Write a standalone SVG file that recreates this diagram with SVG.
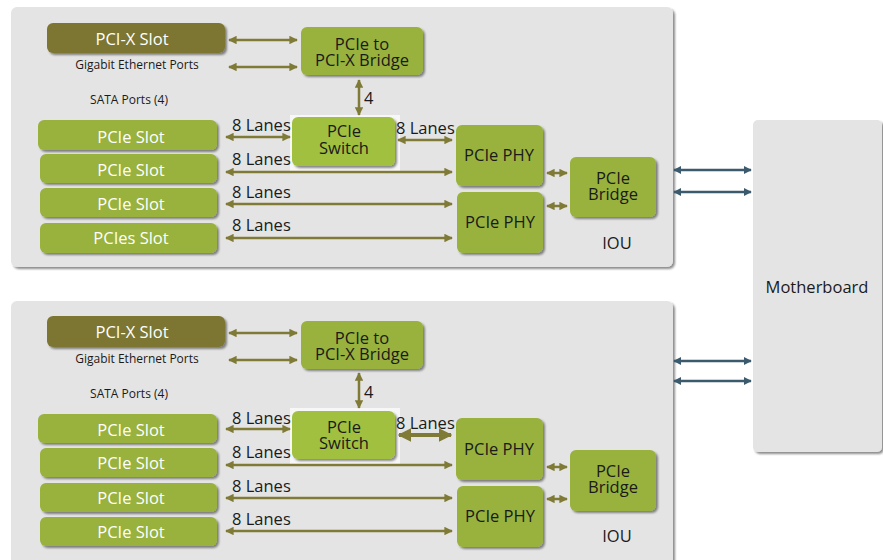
<svg xmlns="http://www.w3.org/2000/svg" width="883" height="560" viewBox="0 0 883 560">
<defs>
<filter id="sh" x="-10%" y="-10%" width="130%" height="140%">
<feDropShadow dx="2" dy="2" stdDeviation="1.2" flood-color="#000" flood-opacity="0.45"/>
</filter>
<marker id="ah" viewBox="0 0 10 10" refX="9" refY="5" markerWidth="3.4" markerHeight="3.4" orient="auto-start-reverse" markerUnits="strokeWidth">
<path d="M0,0 L10,5 L0,10 Z" fill="#7f7a35"/>
</marker>
<marker id="ahb" viewBox="0 0 10 10" refX="9" refY="5" markerWidth="3.2" markerHeight="3.2" orient="auto-start-reverse" markerUnits="strokeWidth">
<path d="M0,0 L10,5 L0,10 Z" fill="#3b5a6d"/>
</marker>
</defs>
<style>
.panel{fill:#e4e4e4;filter:url(#sh)}
.g{fill:#98b23c;filter:url(#sh)}
.sw{fill:#a2c040;filter:url(#sh)}
.ol{fill:#7b7632;filter:url(#sh)}
.t{font-family:"Open Sans","Noto Sans",sans-serif;font-size:16.5px;fill:#1a1a1a;text-anchor:middle}
.tw{font-family:"Open Sans","Noto Sans",sans-serif;font-size:16.5px;fill:#ffffff;text-anchor:middle}
.s{font-family:"Open Sans","Noto Sans",sans-serif;font-size:12px;fill:#1a1a1a;text-anchor:middle}
.l{font-family:"Open Sans","Noto Sans",sans-serif;font-size:16.5px;fill:#1a1a1a}
.a{stroke:#7f7a35;stroke-width:2.5;fill:none;marker-start:url(#ah);marker-end:url(#ah)}
.a2{stroke:#7f7a35;stroke-width:4;fill:none;marker-start:url(#ah);marker-end:url(#ah)}
.b{stroke:#3b5a6d;stroke-width:2.5;fill:none;marker-start:url(#ahb);marker-end:url(#ahb)}
</style>

<rect x="0" y="0" width="883" height="560" fill="#ffffff"/>

<g id="panel-top">
<rect class="panel" x="11" y="7" width="662" height="260" rx="6"/>
<text class="s" x="137" y="69">Gigabit Ethernet Ports</text>
<text class="s" x="129" y="104">SATA Ports (4)</text>
<text class="t" x="617" y="249">IOU</text>
</g>
<g id="panel-bottom">
<rect class="panel" x="11" y="301" width="662" height="275" rx="6"/>
<text class="s" x="137" y="363">Gigabit Ethernet Ports</text>
<text class="s" x="129" y="398">SATA Ports (4)</text>
<text class="t" x="617" y="542">IOU</text>
</g>

<g id="motherboard">
<rect class="panel" x="753" y="120" width="129" height="332" rx="5"/>
<text class="t" x="817" y="293">Motherboard</text>
</g>

<!-- Top panel nodes -->
<g id="t-pcix-slot"><rect class="ol" x="47" y="23" width="178" height="30" rx="6"/><text class="tw" x="132" y="45">PCI-X Slot</text></g>
<g id="t-bridge-x"><rect class="g" x="301" y="27" width="122" height="48" rx="6"/><text class="t" x="362" y="50">PCIe to<tspan x="362" dy="16">PCI-X Bridge</tspan></text></g>
<g id="t-switch"><rect x="290" y="115" width="110" height="56" fill="#f7f7f7"/><rect class="sw" x="292" y="117" width="103" height="49" rx="6"/><text class="t" x="344" y="137">PCIe<tspan x="344" dy="17">Switch</tspan></text></g>
<g id="t-slot1"><rect class="g" x="38" y="120" width="179" height="30" rx="6"/><text class="tw" x="131" y="143">PCIe Slot</text></g>
<g id="t-slot2"><rect class="g" x="40" y="154" width="177" height="29" rx="6"/><text class="tw" x="131" y="176">PCIe Slot</text></g>
<g id="t-slot3"><rect class="g" x="40" y="188" width="177" height="29" rx="6"/><text class="tw" x="131" y="210">PCIe Slot</text></g>
<g id="t-slot4"><rect class="g" x="40" y="223" width="177" height="30" rx="6"/><text class="tw" x="131" y="244">PCIes Slot</text></g>
<g id="t-phy1"><rect class="g" x="456" y="125" width="87" height="61" rx="6"/><text class="t" x="499" y="161">PCIe PHY</text></g>
<g id="t-phy2"><rect class="g" x="457" y="192" width="86" height="61" rx="6"/><text class="t" x="500" y="228">PCIe PHY</text></g>
<g id="t-pbridge"><rect class="g" x="570" y="157" width="86" height="60" rx="6"/><text class="t" x="613" y="184">PCIe<tspan x="613" dy="16">Bridge</tspan></text></g>

<!-- Bottom panel nodes -->
<g id="b-pcix-slot"><rect class="ol" x="47" y="316" width="178" height="31" rx="6"/><text class="tw" x="132" y="338">PCI-X Slot</text></g>
<g id="b-bridge-x"><rect class="g" x="301" y="321" width="122" height="48" rx="6"/><text class="t" x="362" y="344">PCIe to<tspan x="362" dy="16">PCI-X Bridge</tspan></text></g>
<g id="b-switch"><rect x="290" y="408" width="110" height="58" fill="#f7f7f7"/><rect class="sw" x="292" y="411" width="103" height="48" rx="6"/><text class="t" x="344" y="433">PCIe<tspan x="344" dy="16">Switch</tspan></text></g>
<g id="b-slot1"><rect class="g" x="38" y="414" width="179" height="29" rx="6"/><text class="tw" x="131" y="436">PCIe Slot</text></g>
<g id="b-slot2"><rect class="g" x="40" y="448" width="177" height="29" rx="6"/><text class="tw" x="131" y="469">PCIe Slot</text></g>
<g id="b-slot3"><rect class="g" x="40" y="483" width="177" height="29" rx="6"/><text class="tw" x="131" y="504">PCIe Slot</text></g>
<g id="b-slot4"><rect class="g" x="40" y="517" width="177" height="29" rx="6"/><text class="tw" x="131" y="538">PCIe Slot</text></g>
<g id="b-phy1"><rect class="g" x="456" y="418" width="87" height="62" rx="6"/><text class="t" x="499" y="455">PCIe PHY</text></g>
<g id="b-phy2"><rect class="g" x="457" y="486" width="86" height="61" rx="6"/><text class="t" x="500" y="522">PCIe PHY</text></g>
<g id="b-pbridge"><rect class="g" x="570" y="450" width="86" height="61" rx="6"/><text class="t" x="613" y="477">PCIe<tspan x="613" dy="16">Bridge</tspan></text></g>

<g id="connectors">
<!-- top -->
<line class="a" x1="229" y1="40" x2="297" y2="40"/>
<line class="a" x1="229" y1="67" x2="297" y2="67"/>
<line class="a" x1="359" y1="80" x2="359" y2="115"/>
<line class="a" x1="226" y1="137" x2="290" y2="137"/>
<line class="a" x1="398" y1="140" x2="452" y2="140"/>
<line class="a" x1="226" y1="172" x2="452" y2="172"/>
<line class="a" x1="226" y1="204" x2="452" y2="204"/>
<line class="a" x1="226" y1="238" x2="452" y2="238"/>
<line class="a" x1="547" y1="173" x2="567" y2="173"/>
<line class="a" x1="547" y1="206" x2="567" y2="206"/>
<line class="b" x1="674" y1="170" x2="751" y2="170"/>
<line class="b" x1="674" y1="192" x2="751" y2="192"/>
<!-- bottom -->
<line class="a" x1="229" y1="333" x2="297" y2="333"/>
<line class="a" x1="229" y1="360" x2="297" y2="360"/>
<line class="a" x1="359" y1="373" x2="359" y2="408"/>
<line class="a" x1="226" y1="429" x2="290" y2="429"/>
<line class="a2" x1="399" y1="435" x2="451" y2="435"/>
<line class="a" x1="226" y1="465" x2="452" y2="465"/>
<line class="a" x1="226" y1="498" x2="452" y2="498"/>
<line class="a" x1="226" y1="531" x2="452" y2="531"/>
<line class="a" x1="547" y1="467" x2="567" y2="467"/>
<line class="a" x1="547" y1="499" x2="567" y2="499"/>
<line class="b" x1="674" y1="361" x2="751" y2="361"/>
<line class="b" x1="674" y1="381" x2="751" y2="381"/>
<!-- labels -->
<text class="l" x="364" y="104">4</text>
<text class="l" x="232" y="131">8 Lanes</text>
<text class="l" x="396" y="134">8 Lanes</text>
<text class="l" x="232" y="165">8 Lanes</text>
<text class="l" x="232" y="198">8 Lanes</text>
<text class="l" x="232" y="231">8 Lanes</text>
<text class="l" x="364" y="398">4</text>
<text class="l" x="232" y="424">8 Lanes</text>
<text class="l" x="396" y="429">8 Lanes</text>
<text class="l" x="232" y="458">8 Lanes</text>
<text class="l" x="232" y="492">8 Lanes</text>
<text class="l" x="232" y="525">8 Lanes</text>
</g>
</svg>
